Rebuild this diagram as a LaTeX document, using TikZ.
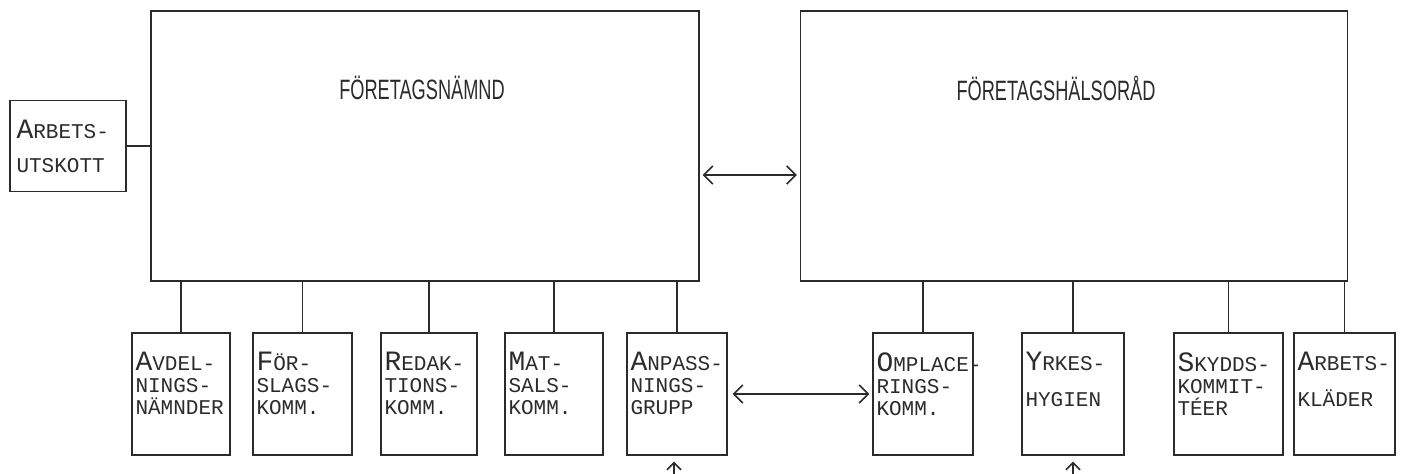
\documentclass[tikz,border=0pt]{standalone}
\usepackage{fontspec}
\usepackage{graphicx}
\setmonofont{Liberation Mono}
\newfontfamily\titlefont{Liberation Sans}
\usetikzlibrary{arrows.meta}
\definecolor{ink}{HTML}{2B2B2B}
\newcommand{\ini}[1]{{\fontsize{28}{22}\selectfont #1}}
\newcommand{\boxtitle}[1]{\scalebox{0.65}[1]{\titlefont\fontsize{28}{30}\selectfont #1}}
\tikzset{
  bigbox/.style={draw=ink, line width=1.4pt, minimum width=#1, minimum height=270pt, inner sep=0pt},
  sub/.style={draw=ink, line width=1.4pt, minimum width=#1, minimum height=122pt, inner sep=0pt},
  subtxt/.style={anchor=north west, inner sep=0pt, align=left, text=ink,
    font=\ttfamily\fontsize{21}{22}\selectfont, xshift=4pt, yshift=-20pt},
  link/.style={draw=ink, line width=1.4pt},
  >={Straight Barb[length=9pt,width=18pt,line width=1.6pt]},
  both/.style={link, <->},
  up/.style={link, ->, >={Straight Barb[length=7pt,width=14pt,line width=1.6pt]}}
}
\begin{document}
\begin{tikzpicture}[x=1pt, y=-1pt]
  \useasboundingbox (0,0) rectangle (1406,474);
  % two councils
  \node[bigbox=548pt] (fn) at (425,146) {};
  \node[text=ink] (fn-t) at (422,88) {\boxtitle{FÖRETAGSNÄMND}};
  \node[bigbox=547pt] (fh) at (1074,146) {};
  \node[text=ink] (fh-t) at (1056,88) {\boxtitle{FÖRETAGSHÄLSORÅD}};
  \draw[both, shorten <=3pt, shorten >=3pt] ([yshift=-29pt]fn.east) -- ([yshift=-29pt]fh.west);
  % work committee on the left
  \node[draw=ink, line width=1.4pt, minimum width=116pt, minimum height=91pt, inner sep=0pt,
    label={[subtxt, xshift=3pt, yshift=0pt]north west:{\ini{A}RBETS-\\[12pt]UTSKOTT}}] (au) at (68,146) {};
  \draw[link] (au.east) -- (fn.west);
  % committees under the nämnd
  \node[sub=98pt, label={[subtxt]north west:{\ini{A}VDEL-\\NINGS-\\NÄMNDER}}] (avd) at (181,394) {};
  \node[sub=99pt, label={[subtxt]north west:{\ini{F}ÖR-\\SLAGS-\\KOMM.}}] (fsl) at (302.5,394) {};
  \node[sub=96pt, label={[subtxt]north west:{\ini{R}EDAK-\\TIONS-\\KOMM.}}] (red) at (429,394) {};
  \node[sub=98pt, label={[subtxt]north west:{\ini{M}AT-\\SALS-\\KOMM.}}] (mat) at (554,394) {};
  \node[sub=100pt, label={[subtxt]north west:{\ini{A}NPASS-\\NINGS-\\GRUPP}}] (anp) at (677,394) {};
  % committees under the hälsoråd
  \node[sub=100pt, label={[subtxt]north west:{\ini{O}MPLACE-\\RINGS-\\KOMM.}}] (omp) at (923,394) {};
  \node[sub=102pt, label={[subtxt]north west:{\ini{Y}RKES-\\[14pt]HYGIEN}}] (yrk) at (1073,394) {};
  \node[sub=109pt, label={[subtxt]north west:{\ini{S}KYDDS-\\KOMMIT-\\TÉER}}] (sky) at (1228.5,394) {};
  \node[sub=101pt, label={[subtxt]north west:{\ini{A}RBETS-\\[14pt]KLÄDER}}] (akl) at (1344.5,394) {};
  \foreach \n in {avd,fsl,red,mat,anp}
    \draw[link] (\n.north) -- (\n.north |- fn.south);
  \foreach \n in {omp,yrk,sky,akl}
    \draw[link] (\n.north) -- (\n.north |- fh.south);
  \draw[both, shorten <=5pt, shorten >=3pt] (anp) -- (omp);
  % small arrows coming in from below
  \coordinate (anp-in) at (674,476);
  \coordinate (yrk-in) at (1073,476);
  \draw[up] (anp-in) -- ([yshift=-6pt]anp.south -| anp-in);
  \draw[up] (yrk-in) -- ([yshift=-6pt]yrk.south);
\end{tikzpicture}
\end{document}
